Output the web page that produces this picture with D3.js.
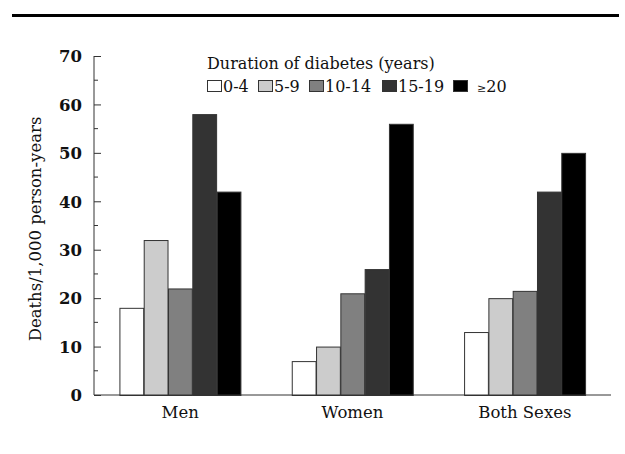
<!DOCTYPE html>
<html>
<head>
<meta charset="utf-8">
<script src="https://cdn.jsdelivr.net/npm/d3@7"></script>
<style>
  body { margin: 0; background: #fff; }
  svg { display: block; }
  text { font-family: "DejaVu Serif", "Liberation Serif", serif; }
</style>
</head>
<body>
<svg id="chart" width="625" height="454"></svg>
<script>
const groups = ["Men", "Women", "Both Sexes"];
const durations = ["0-4", "5-9", "10-14", "15-19", "≥20"];
const colors = ["#ffffff", "#cccccc", "#808080", "#333333", "#000000"];
const valuesMen = [18, 32, 22, 58, 42];
const valuesWomen = [7, 10, 21, 26, 56];
const valuesBoth = [13, 20, 21.5, 42, 50];
const yTicks = [0, 10, 20, 30, 40, 50, 60, 70];
const yMinorTicks = [5, 15, 25, 35, 45, 55, 65];
const seriesByGroup = [valuesMen, valuesWomen, valuesBoth];

const svg = d3.select("#chart");

// rule at the top
svg.append("rect").attr("x", 12).attr("y", 14).attr("width", 607).attr("height", 3).attr("fill", "#000");

const x0 = d3.scaleBand().domain(groups).range([94, 611]).paddingInner(0.295).paddingOuter(0.1475);
const x1 = d3.scaleBand().domain(durations).range([0, x0.bandwidth()]);
const y = d3.scaleLinear().domain([0, 70]).range([395, 56]);

// bars
const g = svg.append("g");
groups.forEach((grp, gi) => {
  g.selectAll(null).data(seriesByGroup[gi]).enter().append("rect")
    .attr("x", (d, i) => x0(grp) + x1(durations[i]) + 0.5)
    .attr("y", d => y(d) + 0.5)
    .attr("width", x1.bandwidth() - 0.5)
    .attr("height", d => y(0) - y(d))
    .attr("fill", (d, i) => colors[i])
    .attr("stroke", "#333")
    .attr("stroke-width", 1);
});

// y axis
const yAxis = d3.axisLeft(y).tickValues(yTicks).tickSize(-7).tickPadding(12).tickFormat(d3.format("d"));
const ya = svg.append("g").attr("transform", "translate(94,0)").call(yAxis);
ya.select(".domain").attr("stroke", "#333").attr("d", `M0,${y(70)}V${y(0)}`);
ya.selectAll(".tick line").attr("stroke", "#333");
ya.selectAll(".tick text").attr("font-size", 16.5).attr("fill", "#111")
  .attr("font-family", "DejaVu Serif").attr("font-weight", 600).attr("dy", "0.35em");
ya.selectAll(null).data(yMinorTicks).enter().append("line")
  .attr("x1", 0).attr("x2", 4).attr("y1", d => y(d)).attr("y2", d => y(d)).attr("stroke", "#333");

// x axis baseline
const xAxis = d3.axisBottom(x0).tickSize(0).tickPadding(11);
const xa = svg.append("g").attr("transform", `translate(0,${y(0)})`).call(xAxis);
xa.select(".domain").attr("stroke", "#333").attr("d", "M94,0H611");
xa.selectAll(".tick text").attr("font-size", 16.5).attr("fill", "#111").attr("font-family", "DejaVu Serif");

// y title
svg.append("text").attr("transform", "translate(41,229) rotate(-90)")
  .attr("text-anchor", "middle").attr("font-size", 16.5).attr("fill", "#111")
  .text("Deaths/1,000 person-years");

// legend
svg.append("text").attr("x", 207).attr("y", 69).attr("font-size", 16).attr("fill", "#111")
  .text("Duration of diabetes (years)");
const legendX = [207, 258, 309, 382, 453];
durations.forEach((d, i) => {
  svg.append("rect").attr("x", legendX[i] + 0.5).attr("y", 80.5).attr("width", 14).attr("height", 11)
    .attr("fill", colors[i]).attr("stroke", "#333");
  const t = svg.append("text").attr("x", legendX[i] + (i === 4 ? 24 : 16)).attr("y", 91.5)
    .attr("font-size", 16).attr("fill", "#111");
  if (i === 4) {
    t.append("tspan").attr("font-size", 11).text("≥");
    t.append("tspan").text("20");
  } else {
    t.text(d);
  }
});
</script>
</body>
</html>
